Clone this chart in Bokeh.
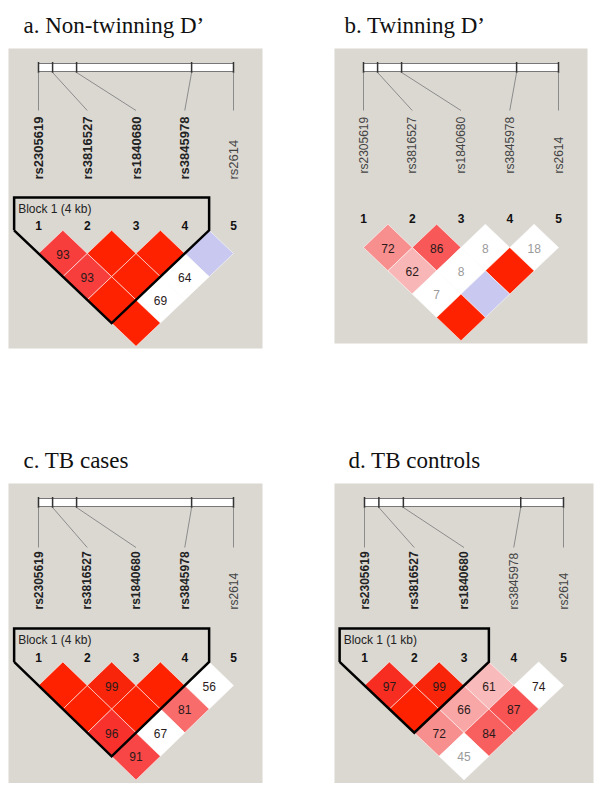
import math
from bokeh.plotting import figure
from bokeh.models import Range1d
from bokeh.core.properties import value
from bokeh.embed import file_html
from bokeh.resources import INLINE

# ---------------- data ----------------
snp_ids = ["rs2305619", "rs3816527", "rs1840680", "rs3845978", "rs2614"]
snp_kb = [0.0, 0.37, 1.0, 4.02, 5.12]          # physical positions (kb)
snp_num = ["1", "2", "3", "4", "5"]

pair_i = [1, 2, 3, 4, 1, 2, 3, 1, 2, 1]
pair_j = [2, 3, 4, 5, 3, 4, 5, 4, 5, 5]

titles = ["a. Non-twinning D\u2019", "b. Twinning D\u2019", "c. TB cases", "d. TB controls"]

a_dprime = [93, 100, 100, 100, 93, 100, 64, 100, 69, 100]
a_lod2 = [1, 1, 1, 0, 1, 1, 0, 1, 0, 1]
b_dprime = [72, 86, 8, 18, 62, 8, 100, 7, 100, 100]
b_lod2 = [1, 1, 0, 0, 1, 0, 1, 0, 0, 1]
c_dprime = [100, 99, 100, 56, 100, 100, 81, 96, 67, 91]
c_lod2 = [1, 1, 1, 0, 1, 1, 1, 1, 0, 1]
d_dprime = [97, 99, 61, 74, 100, 66, 87, 72, 84, 45]
d_lod2 = [1, 1, 1, 0, 1, 1, 1, 1, 1, 0]

a_block = [1, 4]
b_block = None
c_block = [1, 4]
d_block = [1, 3]

dprimes = [a_dprime, b_dprime, c_dprime, d_dprime]
lods = [a_lod2, b_lod2, c_lod2, d_lod2]
blocks = [a_block, b_block, c_block, d_block]

# ---------------- layout (pixel frame of the page) ----------------
L = [
    dict(tx=23, ty=25, g=(8, 262, 48, 348), x1=38, x5=233, bar=(63, 71), lend=110,
         lab=179, lfs=13, num=225, row1=253, vh=23.2, btop=197, btext=208),
    dict(tx=344, ty=25, g=(334, 587, 48, 343), x1=363, x5=558, bar=(63, 71), lend=110,
         lab=173, lfs=12, num=218, row1=247, vh=23.3, btop=None, btext=None),
    dict(tx=23, ty=460, g=(8, 262, 483, 783), x1=38, x5=233, bar=(498, 506), lend=547,
         lab=609, lfs=12, num=657, row1=685, vh=23.6, btop=628, btext=639),
    dict(tx=348, ty=460, g=(334, 593, 483, 783), x1=364, x5=563, bar=(498, 506), lend=547,
         lab=609, lfs=12, num=657, row1=685, vh=23.6, btop=628, btext=639),
]

GRAY = "#dbd8d2"
FONT = value("Liberation Sans")


def cell_color(d, strong):
    if not strong:
        return "#c8c8f0" if d >= 100 else "#ffffff"
    if d >= 100:
        return "#ff2200"
    f = (100 - d) / 100.0
    g = int(min(255, 34 + 390 * f))
    b = int(min(g, 1100 * f))
    return "#%02x%02x%02x" % (248, g, b)


p = figure(width=594, height=783, x_range=Range1d(0, 594), y_range=Range1d(783, 0),
           output_backend="svg", toolbar_location=None, min_border=0,
           x_axis_location=None, y_axis_location=None)
p.grid.grid_line_color = None
p.outline_line_color = None
p.background_fill_color = "white"
p.border_fill_color = "white"

for k in range(4):
    lay = L[k]
    gx0, gx1, gy0, gy1 = lay["g"]
    p.quad(left=[gx0], right=[gx1], top=[gy0], bottom=[gy1], fill_color=GRAY, line_color=None)
    p.text(x=[lay["tx"]], y=[lay["ty"]], text=[titles[k]], text_font=value("Liberation Serif"),
           text_font_size="23px", text_color="#111111", text_baseline="alphabetic", text_align="left")

    x1, x5 = lay["x1"], lay["x5"]
    n = len(snp_ids)
    sp = (x5 - x1) / (n - 1)
    sx = [x1 + i * sp for i in range(n)]
    kb0, kb1 = snp_kb[0], snp_kb[-1]
    px = [x1 + (v - kb0) / (kb1 - kb0) * (x5 - x1) for v in snp_kb]
    by0, by1 = lay["bar"]

    # chromosome bar
    p.quad(left=[x1], right=[x5], top=[by0], bottom=[by1], fill_color="white",
           line_color="#777777", line_width=1)
    p.segment(x0=px, y0=[by0 - 1.5] * n, x1=px, y1=[by1 + 1.5] * n, line_color="#333333", line_width=1.5)
    p.segment(x0=px, y0=[by1 + 1] * n, x1=sx, y1=[lay["lend"]] * n, line_color="#8c8c8c", line_width=1)

    blk = blocks[k]
    in_block = [blk is not None and blk[0] <= i + 1 <= blk[1] for i in range(n)]
    for i in range(n):
        p.text(x=[sx[i]], y=[lay["lab"]], text=[snp_ids[i]], angle=math.pi / 2,
               text_font=FONT, text_font_size="%dpx" % lay["lfs"],
               text_font_style="bold" if in_block[i] else "normal",
               text_color="#222222" if in_block[i] else "#444444",
               text_align="left", text_baseline="middle")
    p.text(x=sx, y=[lay["num"]] * n, text=snp_num, text_font=FONT, text_font_size="12px",
           text_font_style="bold", text_color="#111111", text_align="center", text_baseline="middle")

    # LD diamonds
    hh = sp / 2.0
    vh = lay["vh"]
    xs, ys, cols, tx, ty, tt, tc = [], [], [], [], [], [], []
    dp, lo = dprimes[k], lods[k]
    for c in range(len(pair_i)):
        i, j = pair_i[c], pair_j[c]
        cx = (sx[i - 1] + sx[j - 1]) / 2.0
        cy = lay["row1"] + (j - i - 1) * vh
        xs.append([cx - hh, cx, cx + hh, cx])
        ys.append([cy, cy - vh, cy, cy + vh])
        cols.append(cell_color(dp[c], lo[c]))
        if dp[c] < 100:
            tx.append(cx)
            ty.append(cy + 0.5)
            tt.append(str(dp[c]))
            tc.append("#9a9a9a" if dp[c] < 50 else "#2a1a1a")
    p.patches(xs=xs, ys=ys, fill_color=cols, line_color="#ffffff", line_alpha=0.55, line_width=1)
    p.text(x=tx, y=ty, text=tt, text_color=tc, text_font=FONT, text_font_size="12px",
           text_align="center", text_baseline="middle")

    # haplotype block outline
    if blk is not None:
        a, b = blk
        left = sx[a - 1] - hh
        right = sx[b - 1] + hh
        apx = (sx[a - 1] + sx[b - 1]) / 2.0
        apy = lay["row1"] + (b - a - 1) * vh + vh
        side = apy - (apx - left) * vh / hh
        p.line(x=[left, left, right, right, apx, left], y=[side, lay["btop"], lay["btop"], side, apy, side],
               line_color="black", line_width=2.5, line_join="miter")
        size_kb = round(snp_kb[b - 1] - snp_kb[a - 1])
        p.text(x=[left + 4], y=[lay["btext"]], text=["Block 1 (%d kb)" % size_kb], text_font=FONT,
               text_font_size="12px", text_color="#222222", text_align="left", text_baseline="middle")

open("out.html", "w").write(file_html(p, INLINE))
